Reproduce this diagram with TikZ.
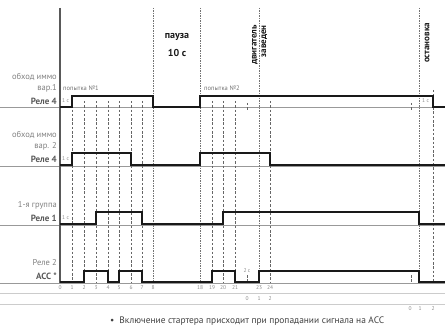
\documentclass[tikz,border=0pt]{standalone}
\usepackage{fontspec}
\setmainfont{PT Sans}
\begin{document}
\begin{tikzpicture}[x=1pt,y=-1pt,
  lab/.style={anchor=east,inner sep=0pt,text=black!50,font=\fontsize{8.5}{9}\selectfont},
  labb/.style={anchor=east,inner sep=0pt,text=black!65,font=\fontsize{9}{9}\selectfont\bfseries},
  tiny/.style={inner sep=0pt,text=black!45,font=\fontsize{5.5}{6}\selectfont},
  small/.style={inner sep=0pt,text=black!55,font=\fontsize{6.5}{7}\selectfont},
  big/.style={inner sep=0pt,text=black!90,font=\fontsize{10}{11}\selectfont\bfseries},
  rot/.style={inner sep=0pt,text=black!90,rotate=90,font=\fontsize{9}{9.5}\selectfont\bfseries},
  sig/.style={line width=1.6pt,black!90,line join=miter},
  base/.style={line width=0.6pt,black!40},
  gridl/.style={line width=0.4pt,black!20},
  dsh/.style={line width=0.5pt,black!60,dash pattern=on 2.5pt off 1.8pt},
  dot/.style={line width=1pt,black!55,dash pattern=on 1.2pt off 1.3pt},
  axis/.style={line width=1.2pt,black!65}]
\useasboundingbox (0,0) rectangle (445,329);

% baselines
\foreach \yy in {107,165,224,282} \draw[base] (0,\yy+0.8) -- (445,\yy+0.8);
\draw[gridl] (0,293) -- (445,293);
\draw[gridl] (0,304) -- (445,304);

% dashed verticals
\foreach \xx in {72,84,96,108,119,131,142,212,223,235,270} \draw[dsh] (\xx,101) -- (\xx,283);
\draw[dsh] (433,90) -- (433,283);
% dotted verticals
\foreach \xx in {153,200,259,419} \draw[dot] (\xx,8) -- (\xx,283);
% small ticks
\draw[dsh] (247,103) -- (247,111);
\draw[dsh] (247,275) -- (247,282);
\draw[dsh] (411,103) -- (411,111);
\draw[dsh] (411,275) -- (411,282);

% axis
\draw[axis] (60,8) -- (60,283);

% signals
\draw[sig] (60,107) -- (72,107) -- (72,96) -- (153,96) -- (153,107) -- (200,107) -- (200,96) -- (433,96) -- (433,107) -- (445,107);
\draw[sig] (60,165) -- (72,165) -- (72,153) -- (131,153) -- (131,165) -- (200,165) -- (200,153) -- (270,153) -- (270,165) -- (445,165);
\draw[sig] (60,224) -- (96,224) -- (96,212) -- (142,212) -- (142,224) -- (223,224) -- (223,212) -- (419,212) -- (419,224) -- (445,224);
\draw[sig] (60,282) -- (84,282) -- (84,271) -- (108,271) -- (108,282) -- (119,282) -- (119,271) -- (142,271) -- (142,282) -- (212,282) -- (212,271) -- (235,271) -- (235,282) -- (259,282) -- (259,271) -- (419,271) -- (419,282) -- (445,282);

% left labels
\node[lab] (c1a) at (57,77) {обход иммо};
\node[lab] (c1b) at (57,88) {вар.1};
\node[labb] (c1c) at (57,101) {Реле 4};
\node[lab] (c2a) at (57,135) {обход иммо};
\node[lab] (c2b) at (57,146) {вар. 2};
\node[labb] (c2c) at (57,159) {Реле 4};
\node[lab] (c3a) at (57,205) {1-я группа};
\node[labb] (c3b) at (57,218) {Реле 1};
\node[lab] (c4a) at (57,263) {Реле 2};
\node[labb] (c4b) at (57,276) {ACC *};

% 1 s labels
\node[tiny,anchor=west] (s1) at (62,101) {1 с};
\node[tiny,anchor=west] (s2) at (62,159) {1 с};
\node[tiny,anchor=west] (s3) at (62,218) {1 с};
\node[tiny,anchor=west] (s4) at (422,101) {1 с};
\node[tiny] (s5) at (247,271) {2 с};

% attempt labels
\node[small,anchor=west] (p1) at (63,88) {попытка №1};
\node[small,anchor=west] (p2) at (204,88) {попытка №2};

% headers
\node[big] (pz) at (177,37) {пауза};
\node[big] (pz2) at (177,53) {10 с};
\node[rot,align=right] (eng) at (259.5,45) {двигатель\\заведен};
\node[rot] (stp) at (427,43) {остановка};

% numbers
\foreach \xx/\tt in {60/0,72/1,84/2,96/3,108/4,119/5,131/6,142/7,153/8,200/18,212/19,223/20,235/21,259/23,270/24}
  \node[tiny] (n\tt) at (\xx,288) {\tt};
\foreach \xx/\tt in {247/0,259/1,270/2}
  \node[tiny] (m\tt) at (\xx,299) {\tt};
\foreach \xx/\tt in {410/0,420/1,433/2}
  \node[tiny] (r\tt) at (\xx,309) {\tt};

% footnote
\node[inner sep=0pt,anchor=west,text=black!75,font=\fontsize{9.4}{10}\selectfont] (fn) at (110,321) {\textbullet\ \ Включение стартера присходит при пропадании сигнала на ACC};
\end{tikzpicture}
\end{document}
